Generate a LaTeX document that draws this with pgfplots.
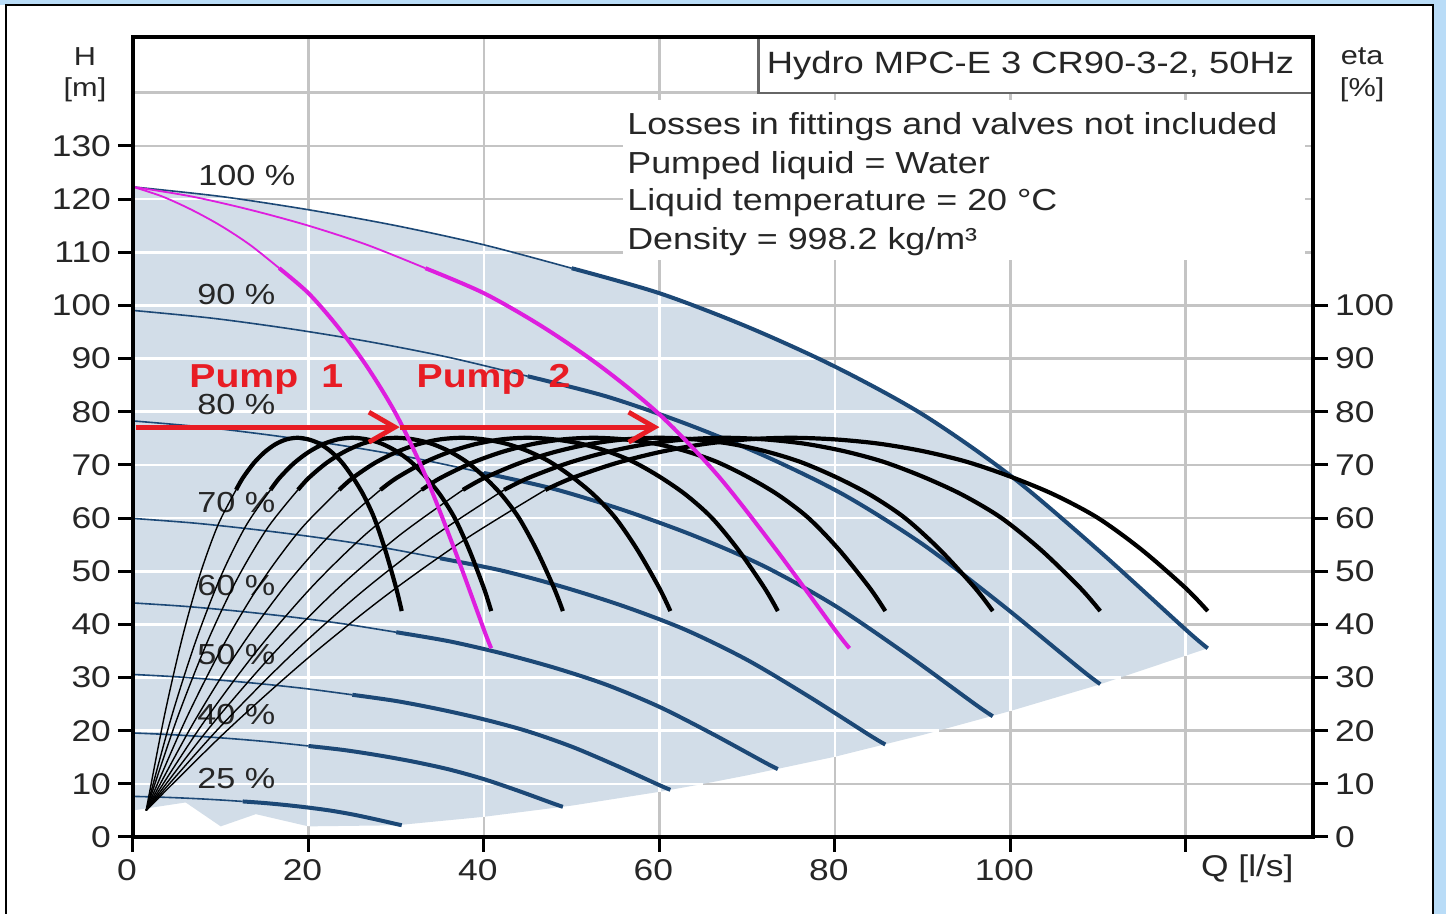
\documentclass[border=0pt]{standalone}
\usepackage{fontspec}
\setmainfont[FakeStretch=1.18]{Liberation Sans}
\usepackage{pgfplots}
\pgfplotsset{compat=1.18}
\usetikzlibrary{arrows.meta}

\definecolor{bgblue}{RGB}{185,220,247}
\definecolor{shade}{RGB}{210,221,232}
\definecolor{gridgray}{RGB}{196,196,196}
\definecolor{curveblue}{RGB}{28,72,118}
\definecolor{pumpmag}{RGB}{222,30,222}
\definecolor{arrowred}{RGB}{232,28,36}

\pgfplotsset{
  bthin/.style={curveblue, line width=0.8pt, smooth},
  bthick/.style={curveblue, line width=2pt, smooth},
  ethin/.style={black, line width=0.7pt, smooth},
  ethick/.style={black, line width=2.1pt, smooth},
  mthin/.style={pumpmag, line width=0.9pt, smooth},
  mthick/.style={pumpmag, line width=2pt, smooth},
}
\tikzset{
  lbl/.style={anchor=base west, inner sep=0pt, font=\fontsize{14.5}{17}\selectfont, text=black!85},
  info/.style={anchor=base west, inner sep=0pt, font=\fontsize{15.2}{18}\selectfont, text=black!85},
  redlbl/.style={anchor=base, inner sep=0pt, font=\bfseries\fontsize{16.6}{19}\selectfont, text=arrowred},
}

\begin{document}
\begin{tikzpicture}
\useasboundingbox (-66.5pt,-38.5pt) rectangle (656.5pt,418.5pt);
\fill[white] (-66.5pt,-38.5pt) rectangle (656.5pt,418.5pt);
\fill[bgblue] (-66.5pt,416pt) rectangle (656.5pt,418.5pt);
\fill[bgblue] (650pt,-38.5pt) rectangle (656.5pt,418.5pt);
\draw[black, line width=1.2pt] (-63.5pt,-38.5pt) -- (-63.5pt,416pt) -- (650pt,416pt) -- (650pt,-38.5pt);

\begin{axis}[
  scale only axis, width=590pt, height=400pt,
  xmin=0, xmax=134.5, ymin=0, ymax=150.5,
  xtick={0,20,...,120}, xticklabels={0,20,40,60,80,100,{}},
  ytick={0,10,...,130},
  extra y ticks={140}, extra y tick labels={},
  extra y tick style={major tick length=0pt},
  xtick pos=bottom, ytick pos=left,
  tick align=outside, major tick length=7.5pt,
  every tick/.style={black, line width=1.5pt},
  grid=major, major grid style={gridgray, line width=1.3pt},
  axis line style={draw=none},
  clip=false,
  /pgf/number format/assume math mode=true,
  ticklabel style={font=\fontsize{15}{18}\selectfont, text=black!85},
  xticklabel style={xshift=-3pt},
]
% operating range of the booster set
\addplot[fill=shade, draw=none] coordinates {
  (0,122.3)(10,120.5)(20,118)(30,115)(40,111.4)(50,107)(60,102.3)(70,96)
  (80,88.5)(90,79.5)(100,68)(110,54)(120,39)(122.5,35.5)
  (110,28.6)(100,23.7)(90,19.2)(80,15.1)(70,11.6)(64.7,9.9)(60,8.5)(50,5.9)
  (40,3.8)(30,2.2)(20,2)(14,4.3)(10,2)(6,6.5)(2,5.5)(0,5)} -- cycle;

% white grid inside the range
\addplot[white, line width=1.3pt, unbounded coords=jump] coordinates {
  (0,120)(12,120) (nan,nan) (0,110)(43.2,110) (nan,nan) (0,100)(63.7,100)
  (nan,nan) (0,90)(78,90) (nan,nan) (0,80)(89.4,80) (nan,nan) (0,70)(98.3,70)
  (nan,nan) (0,60)(105.7,60) (nan,nan) (0,50)(112.7,50) (nan,nan) (0,40)(119.3,40)
  (nan,nan) (0,30)(112.6,30) (nan,nan) (0,20)(91.9,20) (nan,nan) (0,10)(65,10)
  (nan,nan) (20,2)(20,118) (nan,nan) (40,3.8)(40,111.4) (nan,nan) (60,8.5)(60,102.3)
  (nan,nan) (80,15.1)(80,88.5) (nan,nan) (100,23.7)(100,68) (nan,nan) (120,34.1)(120,39)};

% text boxes
\addplot[fill=white, draw=none] coordinates {(55.9,108.6)(133.6,108.6)(133.6,138.6)(55.9,138.6)} -- cycle;
\addplot[fill=white, draw=black!60, line width=1.2pt] coordinates {(71.3,140)(134.5,140)(134.5,150.5)(71.3,150.5)} -- cycle;

\node[anchor=base, font=\fontsize{15.4}{18}\selectfont, text=black!85] at (axis cs:102.3,143.6) {Hydro MPC-E 3 CR90-3-2, 50Hz};
\node[info] at (axis cs:56.3,132.1) {Losses in fittings and valves not included};
\node[info] at (axis cs:56.3,124.9) {Pumped liquid = Water};
\node[info] at (axis cs:56.3,117.8) {Liquid temperature = 20 °C};
\node[info] at (axis cs:56.3,110.6) {Density = 998.2 kg/m³};

\node[font=\fontsize{13}{15}\selectfont, text=black!85] at (axis cs:-5.47,146.8) {H};
\node[font=\fontsize{13}{15}\selectfont, text=black!85] at (axis cs:-5.47,140.6) {[m]};
\node[font=\fontsize{13}{15}\selectfont, text=black!85] at (axis cs:140.1,146.8) {eta};
\node[font=\fontsize{13}{15}\selectfont, text=black!85] at (axis cs:140.1,140.6) {[\%]};
\node[anchor=base west, inner sep=0pt, font=\fontsize{15}{18}\selectfont, text=black!85] at (axis cs:121.7,-7.5) {Q [l/s]};

% speed labels
\node[lbl] at (axis cs:7.4,122.6) {100 \%};
\node[lbl] at (axis cs:7.3,100.1) {90 \%};
\node[lbl] at (axis cs:7.3,79.4) {80 \%};
\node[lbl] at (axis cs:7.3,61.1) {70 \%};
\node[lbl] at (axis cs:7.3,45.5) {60 \%};
\node[lbl] at (axis cs:7.3,32.4) {50 \%};
\node[lbl] at (axis cs:7.3,21.1) {40 \%};
\node[lbl] at (axis cs:7.3,9.2) {25 \%};

% QH curves, 3 pumps, speeds 100 ... 25 %
\addplot[bthin] coordinates {(0,122.3)(10,120.5)(20,118)(30,115)(40,111.4)(50,107)};
\addplot[bthick] coordinates {(50,107)(60,102.3)(70,96)(80,88.5)(90,79.5)(100,68)(110,54)(120,39)(122.5,35.5)};
\addplot[bthin] coordinates {(0,99.06)(9,97.6)(18,95.58)(27,93.15)(36,90.23)(45,86.67)};
\addplot[bthick] coordinates {(45,86.67)(54,82.86)(63,77.76)(72,71.69)(81,64.4)(90,55.08)(99,43.74)(108,31.59)(110.25,28.76)};
\addplot[bthin] coordinates {(0,78.27)(8,77.12)(16,75.52)(24,73.6)(32,71.3)(40,68.48)};
\addplot[bthick] coordinates {(40,68.48)(48,65.47)(56,61.44)(64,56.64)(72,50.88)(80,43.52)(88,34.56)(96,24.96)(98,22.72)};
\addplot[bthin] coordinates {(0,59.93)(7,59.05)(14,57.82)(21,56.35)(28,54.59)(35,52.43)};
\addplot[bthick] coordinates {(35,52.43)(42,50.13)(49,47.04)(56,43.37)(63,38.96)(70,33.32)(77,26.46)(84,19.11)(85.75,17.4)};
\addplot[bthin] coordinates {(0,44.03)(6,43.38)(12,42.48)(18,41.4)(24,40.1)(30,38.52)};
\addplot[bthick] coordinates {(30,38.52)(36,36.83)(42,34.56)(48,31.86)(54,28.62)(60,24.48)(66,19.44)(72,14.04)(73.5,12.78)};
\addplot[bthin] coordinates {(0,30.58)(5,30.13)(10,29.5)(15,28.75)(20,27.85)(25,26.75)};
\addplot[bthick] coordinates {(25,26.75)(30,25.58)(35,24)(40,22.13)(45,19.88)(50,17)(55,13.5)(60,9.75)(61.25,8.88)};
\addplot[bthin] coordinates {(0,19.57)(4,19.28)(8,18.88)(12,18.4)(16,17.82)(20,17.12)};
\addplot[bthick] coordinates {(20,17.12)(24,16.37)(28,15.36)(32,14.16)(36,12.72)(40,10.88)(44,8.64)(48,6.24)(49,5.68)};
\addplot[bthin] coordinates {(0,7.64)(2.5,7.53)(5,7.38)(7.5,7.19)(10,6.96)(12.5,6.69)};
\addplot[bthick] coordinates {(12.5,6.69)(15,6.39)(17.5,6)(20,5.53)(22.5,4.97)(25,4.25)(27.5,3.38)(30,2.44)(30.63,2.22)};

% efficiency curves (right axis, same scale)
\addplot[ethin] coordinates {(1.5,5)(3.55,22.56)(5.6,37.37)(7.65,49.43)(9.7,58.74)(11.75,65.3)};
\addplot[ethin] coordinates {(1.5,5)(4.33,22.27)(7.17,36.93)(10.0,48.99)(12.84,58.45)(15.67,65.3)};
\addplot[ethin] coordinates {(1.5,5)(4.96,21.98)(8.42,36.5)(11.88,48.56)(15.34,58.16)(18.8,65.3)};
\addplot[ethin] coordinates {(1.5,5)(5.9,21.69)(10.3,36.07)(14.7,48.13)(19.1,57.87)(23.5,65.3)};
\addplot[ethin] coordinates {(1.5,5)(6.84,21.31)(12.18,35.49)(17.52,47.55)(22.86,57.49)(28.2,65.3)};
\addplot[ethin] coordinates {(1.5,5)(7.78,20.92)(14.06,34.91)(20.34,46.97)(26.62,57.1)(32.9,65.3)};
\addplot[ethin] coordinates {(1.5,5)(8.72,20.58)(15.94,34.4)(23.16,46.46)(30.38,56.76)(37.6,65.3)};
\addplot[ethin] coordinates {(1.5,5)(9.66,20.24)(17.82,33.9)(25.98,45.96)(34.14,56.42)(42.3,65.3)};
\addplot[ethin] coordinates {(1.5,5)(10.6,19.86)(19.7,33.32)(28.8,45.38)(37.9,56.04)(47,65.3)};

\addplot[ethick] coordinates {(11.75,65.3)(12.5,67.5)(13.75,70.3)(15,72.4)(16.25,73.9)(17.5,74.8)(18.75,75.1)(20,74.8)(21.25,74.0)(22.5,72.6)(23.75,70.6)(25,67.8)(26.25,64.4)(27.5,60.0)(28.75,54.0)(30,46.8)(30.63,42.5)};
\addplot[ethick] coordinates {(15.67,65.3)(16.67,67.5)(18.33,70.3)(20,72.4)(21.67,73.9)(23.33,74.8)(25,75.1)(26.67,74.8)(28.33,74.0)(30,72.6)(31.67,70.6)(33.33,67.8)(35,64.4)(36.67,60.0)(38.33,54.0)(40,46.8)(40.83,42.5)};
\addplot[ethick] coordinates {(18.8,65.3)(20,67.5)(22,70.3)(24,72.4)(26,73.9)(28,74.8)(30,75.1)(32,74.8)(34,74.0)(36,72.6)(38,70.6)(40,67.8)(42,64.4)(44,60.0)(46,54.0)(48,46.8)(49,42.5)};
\addplot[ethick] coordinates {(23.5,65.3)(25,67.5)(27.5,70.3)(30,72.4)(32.5,73.9)(35,74.8)(37.5,75.1)(40,74.8)(42.5,74.0)(45,72.6)(47.5,70.6)(50,67.8)(52.5,64.4)(55,60.0)(57.5,54.0)(60,46.8)(61.25,42.5)};
\addplot[ethick] coordinates {(28.2,65.3)(30,67.5)(33,70.3)(36,72.4)(39,73.9)(42,74.8)(45,75.1)(48,74.8)(51,74.0)(54,72.6)(57,70.6)(60,67.8)(63,64.4)(66,60.0)(69,54.0)(72,46.8)(73.5,42.5)};
\addplot[ethick] coordinates {(32.9,65.3)(35,67.5)(38.5,70.3)(42,72.4)(45.5,73.9)(49,74.8)(52.5,75.1)(56,74.8)(59.5,74.0)(63,72.6)(66.5,70.6)(70,67.8)(73.5,64.4)(77,60.0)(80.5,54.0)(84,46.8)(85.75,42.5)};
\addplot[ethick] coordinates {(37.6,65.3)(40,67.5)(44,70.3)(48,72.4)(52,73.9)(56,74.8)(60,75.1)(64,74.8)(68,74.0)(72,72.6)(76,70.6)(80,67.8)(84,64.4)(88,60.0)(92,54.0)(96,46.8)(98,42.5)};
\addplot[ethick] coordinates {(42.3,65.3)(45,67.5)(49.5,70.3)(54,72.4)(58.5,73.9)(63,74.8)(67.5,75.1)(72,74.8)(76.5,74.0)(81,72.6)(85.5,70.6)(90,67.8)(94.5,64.4)(99,60.0)(103.5,54.0)(108,46.8)(110.25,42.5)};
\addplot[ethick] coordinates {(47,65.3)(50,67.5)(55,70.3)(60,72.4)(65,73.9)(70,74.8)(75,75.1)(80,74.8)(85,74.0)(90,72.6)(95,70.6)(100,67.8)(105,64.4)(110,60.0)(115,54.0)(120,46.8)(122.5,42.5)};

% one pump and two pumps at full speed
\addplot[mthin] coordinates {(0,122.3)(3.33,120.5)(6.67,118)(10,115)(13.33,111.4)(16.67,107)};
\addplot[mthick] coordinates {(16.67,107)(20,102.3)(23.33,96)(26.67,88.5)(30,79.5)(33.33,68)(36.67,54)(40,39)(40.83,35.5)};
\addplot[mthin] coordinates {(0,122.3)(6.67,120.5)(13.33,118)(20,115)(26.67,111.4)(33.33,107)};
\addplot[mthick] coordinates {(33.33,107)(40,102.3)(46.67,96)(53.33,88.5)(60,79.5)(66.67,68)(73.33,54)(80,39)(81.67,35.5)};

% duty point arrows
\addplot[arrowred, line width=2.4pt, -{Straight Barb[length=13pt,width=15pt]}] coordinates {(0.3,77.1)(30.4,77.1)};
\addplot[arrowred, line width=2.4pt, -{Straight Barb[length=13pt,width=15pt]}] coordinates {(30.4,77.1)(60,77.1)};
\node[redlbl] at (axis cs:15.2,84.5) {Pump\hspace{0.7em}1};
\node[redlbl] at (axis cs:41.1,84.5) {Pump\hspace{0.7em}2};
\end{axis}

\begin{axis}[
  scale only axis, width=590pt, height=400pt,
  xmin=0, xmax=134.5, ymin=0, ymax=150.5,
  xtick=\empty, ytick={0,10,...,100},
  ytick pos=right, yticklabel pos=right,
  tick align=outside, major tick length=7.5pt,
  every tick/.style={black, line width=1.5pt},
  axis line style={black, line width=2pt},
  /pgf/number format/assume math mode=true,
  ticklabel style={font=\fontsize{15}{18}\selectfont, text=black!85},
]
\end{axis}
\end{tikzpicture}
\end{document}
